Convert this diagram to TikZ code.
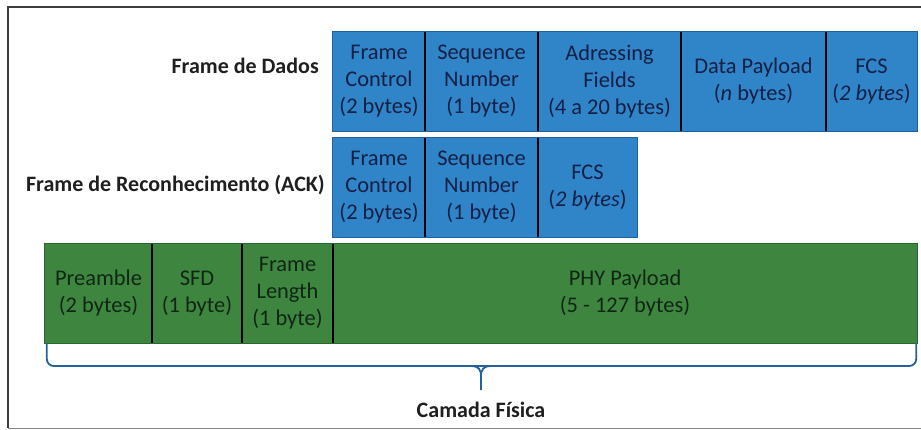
\documentclass[tikz,border=0pt]{standalone}
\usepackage{fontspec}
\setmainfont{Carlito}
\definecolor{cellblue}{RGB}{48,132,200}
\definecolor{edgeblue}{RGB}{30,98,160}
\definecolor{cellgreen}{RGB}{62,134,64}
\definecolor{edgegreen}{RGB}{40,105,50}
\definecolor{bluetext}{RGB}{20,32,70}
\definecolor{greentext}{RGB}{16,38,20}
\definecolor{bracecol}{RGB}{36,98,156}
\definecolor{framecol}{RGB}{60,60,60}
\tikzset{
  cell/.style={rectangle, inner sep=0pt, minimum height=99pt, align=center,
    font=\fontsize{22.4}{27}\selectfont},
  bluecell/.style={cell, fill=cellblue, text=bluetext},
  greencell/.style={cell, fill=cellgreen, text=greentext},
  divider/.style={black, line width=2.2pt},
  rowedge/.style={line width=1pt},
  rowlabel/.style={font=\fontsize{22}{26}\selectfont\bfseries, text=black!88, inner sep=0pt},
}
\begin{document}
\begin{tikzpicture}[x=1pt,y=-1pt]
\useasboundingbox (0,0) rectangle (921,430);

% outer frame (open on the right)
\draw[framecol, line width=1.2pt] (921,7) -- (8,7) -- (8,428);
\draw[framecol!60, line width=1pt] (8,428) -- (921,428);

% data frame
\node[bluecell, minimum width=92pt]  (dfc)  at (379,81.5)   {Frame\\Control\\(2 bytes)};
\node[bluecell, minimum width=113pt] (dsn)  at (481.5,81.5) {Sequence\\Number\\(1 byte)};
\node[bluecell, minimum width=143pt] (daf)  at (609.5,81.5) {Adressing\\Fields\\(4 a 20 bytes)};
\node[bluecell, minimum width=145pt] (ddp)  at (753.5,81.5) {Data Payload\\(\textit{n} bytes)};
\node[bluecell, minimum width=91pt]  (dfcs) at (871.5,81.5) {FCS\\(\textit{2 bytes})};
\draw[rowedge, edgeblue] (dfc.north west) rectangle (dfcs.south east);
\foreach \c in {dfc,dsn,daf,ddp}
  \draw[divider] (\c.north east) -- (\c.south east);

% acknowledgement frame
\node[bluecell, minimum width=92pt]  (afc)  at (379,187.5)   {Frame\\Control\\(2 bytes)};
\node[bluecell, minimum width=113pt] (asn)  at (481.5,187.5) {Sequence\\Number\\(1 byte)};
\node[bluecell, minimum width=99pt]  (afcs) at (587.5,187.5) {FCS\\(\textit{2 bytes})};
\draw[rowedge, edgeblue] (afc.north west) rectangle (afcs.south east);
\foreach \c in {afc,asn}
  \draw[divider] (\c.north east) -- (\c.south east);

% physical layer frame
\node[greencell, minimum width=107pt] (ppre) at (98.5,293.5)  {Preamble\\(2 bytes)};
\node[greencell, minimum width=90pt]  (psfd) at (197,293.5)   {SFD\\(1 byte)};
\node[greencell, minimum width=91pt]  (pfl)  at (287.5,293.5) {Frame\\Length\\(1 byte)};
\node[greencell, minimum width=584pt] (ppay) at (625,293.5)   {PHY Payload\\(5 - 127 bytes)};
\draw[rowedge, edgegreen] (ppre.north west) rectangle (ppay.south east);
\foreach \c in {ppre,psfd,pfl}
  \draw[divider] (\c.north east) -- (\c.south east);

% row labels
\node[rowlabel, anchor=east] (ldados) at (319,66)  {Frame de Dados};
\node[rowlabel, anchor=east] (lack)   at (325,185) {Frame de Reconhecimento (ACK)};

% brace under the physical layer frame
\coordinate (tip) at (481,390);
\draw[bracecol, line width=1.8pt, rounded corners=7pt]
  ([xshift=2pt]ppre.south west) -- ([xshift=2pt]ppre.south west |- 0,366)
  -- ([xshift=-1pt]ppay.south east |- 0,366) -- ([xshift=-1pt]ppay.south east);
\draw[bracecol, line width=1.8pt]
  (470,366) .. controls (479,366) and (481,369) .. (481,377) -- (tip)
  (492,366) .. controls (483,366) and (481,369) .. (481,377);
\node[rowlabel] (camada) at (481,410) {Camada Física};
\end{tikzpicture}
\end{document}
